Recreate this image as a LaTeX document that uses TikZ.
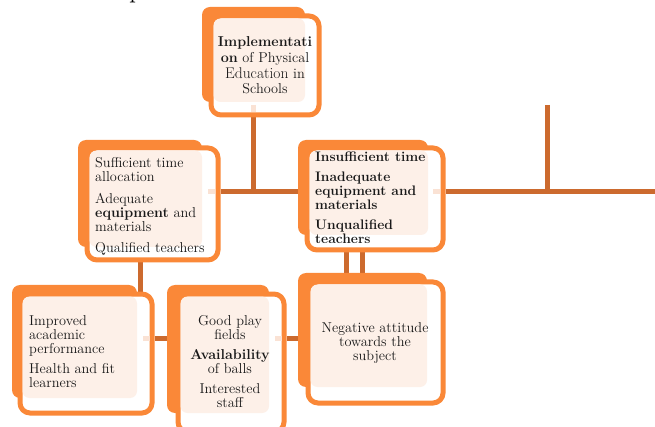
\documentclass[tikz,border=0pt]{standalone}
\usetikzlibrary{backgrounds}
\definecolor{og}{RGB}{250,136,56}
\definecolor{peach}{RGB}{253,240,232}
\definecolor{ln}{RGB}{204,106,46}
\definecolor{pale}{RGB}{250,226,212}
\tikzset{
  frame/.style={draw=og, line width=5pt, fill=white, rounded corners=10pt, inner sep=0pt},
  conn/.style={draw=ln, line width=5pt},
  stub/.style={draw=pale, line width=5pt},
  txt/.style={inner sep=0pt, font=\fontsize{14.3}{14}\selectfont, text=black!90},
}
% #1 name, #2-#5 back rect, #6-#9 frame (stroke centre)
\newcommand{\dbox}[9]{%
  \fill[og,rounded corners=8pt] (#2,#3) rectangle (#4,#5);
  \pgfmathsetmacro\bw{#8-#6}\pgfmathsetmacro\bh{#9-#7}
  \node[frame,minimum width=\bw pt,minimum height=\bh pt] (#1) at ({(#6+#8)/2},{(#7+#9)/2}) {};
  \fill[peach,rounded corners=7pt] ({#6+2.5},{#7+2.5}) rectangle (#4,#5);
}
\begin{document}
\begin{tikzpicture}[x=1pt,y=-1pt]
\useasboundingbox (0,0) rectangle (655,427);
\begin{scope}[on background layer]
\fill[white] (0,0) rectangle (655,427);
\end{scope}
% cut-off heading letter
\node[anchor=base west, inner sep=0pt, font=\fontsize{28}{28}\selectfont] (ptitle) at (129,-2.5) {p};
% boxes
\dbox{top}{202}{7}{305}{102}{211}{16}{319}{115}
\dbox{lm}{78}{140}{202}{247}{87}{148}{218}{260}
\dbox{rm}{298}{140}{428}{235}{307}{148}{443}{250}
\dbox{bl}{12}{285}{137}{398}{20}{294}{152}{413}
\dbox{bm}{167}{285}{269}{413}{178}{294}{284}{432}
\dbox{br}{298}{273}{427}{387}{308}{282}{443}{403}
% connectors
\coordinate (j1) at (253,192);
\coordinate (vtop) at (547,105);
\coordinate (rend) at (655,192);
\coordinate (k) at (140,0);
\coordinate (m) at (0,338);
\coordinate (v1) at (346,0);
\coordinate (v2) at (362,0);
\begin{scope}[on background layer]
\draw[conn] (top.south -| j1) -- (j1);
\draw[conn] (lm.east |- j1) -- (rm.west |- j1);
\draw[conn] (rm.east |- j1) -- (rend);
\draw[conn] (vtop) -- (vtop |- j1);
\draw[conn] (lm.south -| k) -- (bl.north -| k);
\draw[conn] (bl.east |- m) -- (bm.west |- m);
\draw[conn] (bm.east |- m) -- (br.west |- m);
\draw[conn] (rm.south -| v1) -- (br.north -| v1);
\draw[conn] (rm.south -| v2) -- (br.north -| v2);
\end{scope}
% pale stubs inside boxes
\draw[stub] (253,105) -- (253,112);
\draw[stub] (208,192) -- (215,192);
\draw[stub] (433,192) -- (440,192);
\draw[stub] (143,338) -- (150,338);
\draw[stub] (275,338) -- (282,338);
% texts
\node[txt, align=center, anchor=north] (ttop) at (265,36)
  {\textbf{Implementati}\\[2pt] \textbf{on} of Physical\\[2pt] {\fontsize{15.5}{15.5}\selectfont Education} in\\[1pt] Schools};
\node[txt, align=left, anchor=north west] (tlm) at (95,157)
  {Sufficient time\\ allocation\\[8pt] Adequate\\ \textbf{equipment} and\\ materials\\[7pt] Qualified teachers};
\node[txt, align=left, anchor=north west, font=\fontsize{13.8}{14}\selectfont\bfseries] (trm) at (315,152)
  {Insufficient time\\[6pt] Inadequate\\ equipment and\\ materials\\[6pt] Unqualified\\ teachers};
\node[txt, align=left, anchor=north west] (tbl) at (29,315)
  {Improved\\ academic\\ performance\\[6pt] Health and fit\\ learners};
\node[txt, align=center, anchor=north] (tbm) at (230,315)
  {Good play\\ fields\\[6pt] \textbf{Availability}\\ of balls\\[6pt] Interested\\ staff};
\node[txt, align=center, anchor=north] (tbr) at (375,322)
  {Negative attitude\\ towards the\\ subject};
\end{tikzpicture}
\end{document}
